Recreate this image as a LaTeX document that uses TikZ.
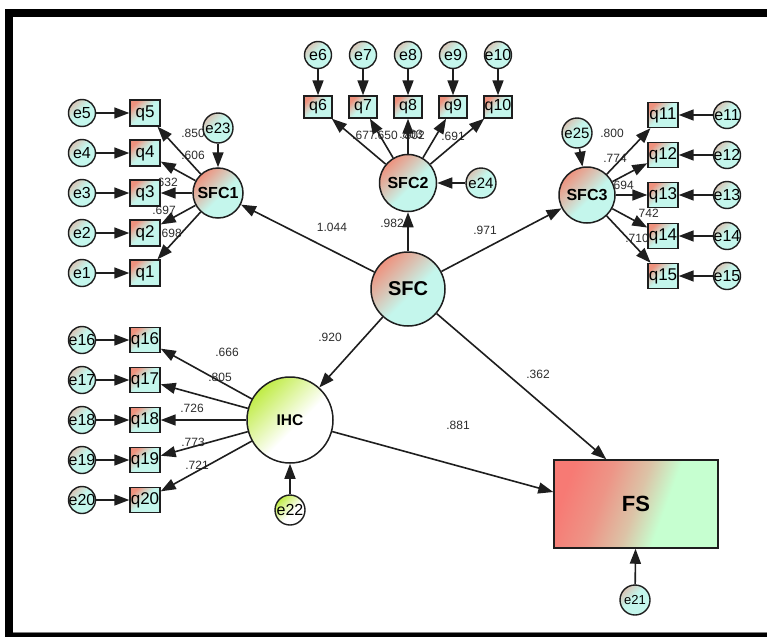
\documentclass[tikz,border=0pt]{standalone}
\usepackage{fontspec}
\setmainfont{Liberation Sans}
\usetikzlibrary{arrows.meta,calc}
\definecolor{sal}{RGB}{238,146,126}
\definecolor{cy}{RGB}{196,246,236}
\definecolor{ygr}{RGB}{192,236,70}
\definecolor{fsred}{RGB}{247,122,116}
\definecolor{fsgreen}{RGB}{198,255,208}
\definecolor{edgec}{RGB}{30,30,30}
\definecolor{lblc}{RGB}{45,45,45}
\pgfdeclareverticalshading{qshade}{100bp}{color(0bp)=(cy); color(52bp)=(cy); color(64bp)=(cy!55!sal); color(75bp)=(sal); color(100bp)=(sal)}
\pgfdeclareverticalshading{eshade}{100bp}{color(0bp)=(cy); color(55bp)=(cy); color(75bp)=(cy!50!sal); color(100bp)=(cy!50!sal)}
\pgfdeclareverticalshading{latshade}{100bp}{color(0bp)=(cy); color(46bp)=(cy); color(60bp)=(cy!50!sal); color(75bp)=(sal); color(100bp)=(sal)}
\pgfdeclareverticalshading{ihcshade}{100bp}{color(0bp)=(white); color(45bp)=(white); color(60bp)=(white!50!ygr); color(75bp)=(ygr); color(100bp)=(ygr)}
\pgfdeclareverticalshading{fsshade}{100bp}{color(0bp)=(fsgreen); color(40bp)=(fsgreen); color(50bp)=(fsred!45!fsgreen); color(62bp)=(fsred!80!fsgreen); color(75bp)=(fsred); color(100bp)=(fsred)}
\newcommand{\mkz}[1]{\makebox[0pt]{#1}}
\tikzset{
  err/.style={circle, draw=edgec, line width=1.4pt, minimum size=27pt, inner sep=0pt,
    font=\fontsize{16}{16}\selectfont, shading=eshade, shading angle=45},
  errb/.style={err, minimum size=30pt, font=\fontsize{15}{15}\selectfont},
  errg/.style={err, minimum size=30pt, shading=ihcshade, shading angle=45},
  obs/.style={rectangle, draw=edgec, line width=1.4pt, minimum width=30pt, minimum height=26pt, inner sep=0pt,
    font=\fontsize{17}{17}\selectfont, shading=qshade, shading angle=45},
  obst/.style={obs, minimum width=28pt, minimum height=22pt, font=\fontsize{16}{16}\selectfont},
  lat/.style={circle, draw=edgec, line width=1.5pt, inner sep=0pt, font=\bfseries\fontsize{16}{16}\selectfont,
    shading=latshade, shading angle=45},
  arr/.style={draw=edgec, line width=1.6pt, -{Triangle[length=15pt,width=11pt]}},
  lbl/.style={font=\fontsize{12}{12}\selectfont, text=lblc, inner sep=0pt}
}
\begin{document}
\begin{tikzpicture}[x=1pt,y=-1pt]
\useasboundingbox (0,0) rectangle (767,637);
\fill[black] (5,9) rectangle (767,637);
\fill[white] (13,17) rectangle (767,632);
\draw[gray, line width=0.8pt] (13,632) -- (767,632);

% path coefficient labels (drawn first so that nodes may cover them)
\node[lbl] at (193,133) {.850};
\node[lbl] at (193,155) {.606};
\node[lbl] at (166,182) {.632};
\node[lbl] at (164,210) {.697};
\node[lbl] at (170,233) {.698};
\node[lbl] at (364,135) {.677};
\node[lbl] at (386,135) {.650};
\node[lbl] at (411,134) {.803};
\node[lbl] at (413,135) {.802};
\node[lbl] at (453,136) {.691};
\node[lbl] at (612,133) {.800};
\node[lbl] at (615,158) {.774};
\node[lbl] at (622,185) {.694};
\node[lbl] at (647,213) {.742};
\node[lbl] at (637,238) {.710};
\node[lbl] at (227,352) {.666};
\node[lbl] at (220,377) {.805};
\node[lbl] at (192,408) {.726};
\node[lbl] at (193,442) {.773};
\node[lbl] at (197,465) {.721};
\node[lbl] at (332,227) {1.044};
\node[lbl] at (392,223) {.982};
\node[lbl] at (485,230) {.971};
\node[lbl] at (330,337) {.920};
\node[lbl] at (538,374) {.362};
\node[lbl] at (458,425) {.881};

% SFC1 group
\foreach \i/\y in {5/113,4/153,3/193,2/233,1/273}{
  \node[err] (e\i) at (82,\y) {\mkz{e\i}};
  \node[obs] (q\i) at (145,\y) {\mkz{q\i}};
}
\node[lat, minimum size=50pt] (SFC1) at (218,193) {\mkz{SFC1}};
\node[errb] (e23) at (218,128) {\mkz{e23}};

% SFC2 group
\foreach \i/\x in {6/318,7/363,8/408,9/453,10/498}{
  \node[err] (e\i) at (\x,55) {\mkz{e\i}};
  \node[obst] (q\i) at (\x,107) {\mkz{q\i}};
}
\node[lat, minimum size=57pt] (SFC2) at (408,183) {\mkz{SFC2}};
\node[errb] (e24) at (481,183) {\mkz{e24}};

% SFC3 group
\foreach \i/\y in {11/115,12/155,13/195,14/236,15/276}{
  \node[err] (e\i) at (727,\y) {\mkz{e\i}};
  \node[obs, minimum height=25pt] (q\i) at (663,\y) {\mkz{q\i}};
}
\node[lat, minimum size=56pt] (SFC3) at (587,195) {\mkz{SFC3}};
\node[errb] (e25) at (577,133) {\mkz{e25}};

% IHC group
\foreach \i/\y in {16/340,17/380,18/420,19/460,20/500}{
  \node[err] (e\i) at (82,\y) {\mkz{e\i}};
  \node[obs, minimum height=25pt] (q\i) at (145,\y) {\mkz{q\i}};
}
\node[lat, minimum size=86pt, font=\bfseries\fontsize{15.5}{15.5}\selectfont,
  shading=ihcshade, shading angle=45] (IHC) at (290,420) {\mkz{IHC}};
\node[errg, font=\fontsize{16}{16}\selectfont] (e22) at (290,510) {\mkz{e22}};

% SFC and FS
\node[lat, minimum size=74pt, font=\bfseries\fontsize{20}{20}\selectfont] (SFC) at (408,289) {\mkz{SFC}};
\node[rectangle, draw=edgec, line width=1.5pt, minimum width=164pt, minimum height=88pt, inner sep=0pt,
  font=\bfseries\fontsize{22}{22}\selectfont, shading=fsshade, shading angle=70] (FS) at (636,504) {\mkz{FS}};
\node[err, minimum size=30pt, font=\fontsize{13}{13}\selectfont] (e21) at (635,600) {\mkz{e21}};

% connectors
\foreach \i in {1,...,5}{ \draw[arr] (e\i) -- (q\i); \draw[arr] (SFC1) -- (q\i); }
\foreach \i in {6,...,10}{ \draw[arr] (e\i) -- (q\i); \draw[arr] (SFC2) -- (q\i); }
\foreach \i in {11,...,15}{ \draw[arr] (e\i) -- (q\i); \draw[arr] (SFC3) -- (q\i); }
\foreach \i in {16,...,20}{ \draw[arr] (e\i) -- (q\i); \draw[arr] (IHC) -- (q\i); }
\draw[arr] (e23) -- (SFC1);
\draw[arr] (e24) -- (SFC2);
\draw[arr] (e25) -- (SFC3);
\draw[arr] (e22) -- (IHC);
\draw[arr] (e21) -- (FS);
\draw[arr] (SFC) -- (SFC1);
\draw[arr] (SFC) -- (SFC2);
\draw[arr] (SFC) -- (SFC3);
\draw[arr] (SFC) -- (IHC);
\coordinate (fsTop) at ([xshift=53pt]FS.north west);
\coordinate (fsLeft) at ([yshift=12pt]FS.west);
\draw[arr] (SFC) -- (fsTop);
\draw[arr] (IHC) -- (fsLeft);
\end{tikzpicture}
\end{document}
